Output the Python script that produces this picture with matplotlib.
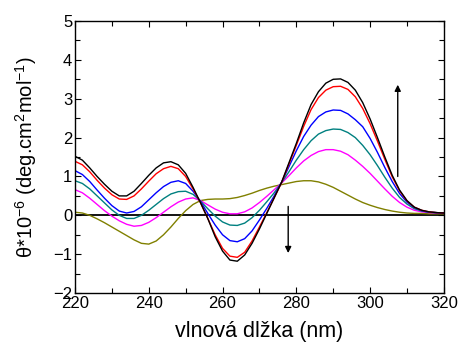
import numpy as np
import matplotlib
matplotlib.use("Agg")
import matplotlib.pyplot as plt
from matplotlib.ticker import MultipleLocator

plt.rcParams["font.family"] = ["Liberation Sans", "DejaVu Sans"]
plt.rcParams["mathtext.fontset"] = "custom"
plt.rcParams["mathtext.rm"] = "Liberation Sans"
plt.rcParams["mathtext.default"] = "regular"

# wavelength grid (nm)
wl = list(range(220, 322, 2))

black = [1.52, 1.42, 1.22, 1.00, 0.80, 0.62, 0.50, 0.50, 0.62, 0.82,
         1.03, 1.22, 1.35, 1.38, 1.30, 1.08, 0.72, 0.33, -0.08, -0.55,
         -0.92, -1.15, -1.18, -1.02, -0.72, -0.35, 0.05, 0.45, 0.85, 1.35,
         1.85, 2.38, 2.85, 3.18, 3.40, 3.50, 3.51, 3.42, 3.22, 2.90,
         2.48, 2.00, 1.50, 1.03, 0.65, 0.38, 0.21, 0.13, 0.09, 0.07, 0.06]
red = [1.39, 1.30, 1.12, 0.90, 0.70, 0.53, 0.42, 0.41, 0.50, 0.68,
       0.88, 1.07, 1.20, 1.26, 1.20, 1.00, 0.68, 0.33, -0.08, -0.50,
       -0.85, -1.05, -1.08, -0.95, -0.66, -0.30, 0.07, 0.45, 0.84, 1.32,
       1.80, 2.29, 2.72, 3.03, 3.22, 3.31, 3.32, 3.24, 3.05, 2.75,
       2.36, 1.91, 1.44, 0.99, 0.63, 0.37, 0.21, 0.13, 0.09, 0.07, 0.06]
blue = [1.15, 1.05, 0.87, 0.65, 0.44, 0.25, 0.11, 0.06, 0.10, 0.22,
        0.40, 0.58, 0.74, 0.85, 0.89, 0.82, 0.62, 0.36, 0.05, -0.25,
        -0.50, -0.65, -0.68, -0.60, -0.40, -0.12, 0.18, 0.50, 0.85, 1.25,
        1.66, 2.03, 2.32, 2.54, 2.66, 2.71, 2.70, 2.61, 2.46, 2.28,
        1.98, 1.62, 1.23, 0.87, 0.56, 0.34, 0.20, 0.12, 0.08, 0.07, 0.06]
teal = [0.89, 0.82, 0.68, 0.50, 0.32, 0.14, 0.00, -0.08, -0.08, 0.00,
        0.13, 0.28, 0.43, 0.55, 0.61, 0.62, 0.54, 0.37, 0.17, -0.02,
        -0.17, -0.25, -0.26, -0.20, -0.06, 0.13, 0.35, 0.58, 0.84, 1.12,
        1.42, 1.69, 1.92, 2.09, 2.18, 2.22, 2.21, 2.13, 2.00, 1.80,
        1.56, 1.28, 0.98, 0.70, 0.46, 0.29, 0.17, 0.11, 0.08, 0.07, 0.06]
magenta = [0.66, 0.58, 0.44, 0.28, 0.12, -0.02, -0.14, -0.23, -0.28, -0.26,
           -0.18, -0.06, 0.08, 0.22, 0.34, 0.42, 0.45, 0.38, 0.27, 0.16,
           0.08, 0.04, 0.04, 0.09, 0.19, 0.33, 0.49, 0.66, 0.83, 1.02,
           1.22, 1.40, 1.54, 1.64, 1.69, 1.69, 1.65, 1.56, 1.42, 1.26,
           1.08, 0.88, 0.68, 0.49, 0.33, 0.21, 0.13, 0.09, 0.07, 0.06, 0.05]
olive = [0.08, 0.06, 0.00, -0.09, -0.19, -0.30, -0.41, -0.52, -0.63, -0.72,
         -0.74, -0.66, -0.50, -0.30, -0.08, 0.12, 0.28, 0.38, 0.41, 0.42,
         0.42, 0.43, 0.46, 0.51, 0.57, 0.64, 0.70, 0.75, 0.79, 0.83,
         0.87, 0.89, 0.89, 0.86, 0.80, 0.72, 0.62, 0.52, 0.42, 0.33,
         0.26, 0.20, 0.15, 0.11, 0.08, 0.06, 0.05, 0.05, 0.04, 0.04, 0.04]

series = [(olive, "#808000"), (magenta, "#ff00ff"), (teal, "#008080"),
          (blue, "#0000ff"), (red, "#ff0000"), (black, "#000000")]

fig = plt.figure(figsize=(4.59, 3.44), dpi=100)
ax = fig.add_axes([0.1634, 0.148, 0.8036, 0.791])

ax.axhline(0, color="black", lw=1.3, zorder=1)
for ys, c in series:
    ax.plot(wl, ys, color=c, lw=1.0, zorder=2)

# arrows showing trend
ax.annotate("", xy=(307.5, 3.36), xytext=(307.5, 1.0),
            arrowprops=dict(arrowstyle="-|>", color="black", lw=1.0,
                            mutation_scale=9, shrinkA=0, shrinkB=0))
ax.annotate("", xy=(277.8, -0.97), xytext=(277.8, 0.23),
            arrowprops=dict(arrowstyle="-|>", color="black", lw=1.0,
                            mutation_scale=9, shrinkA=0, shrinkB=0))

ax.set_xlim(220, 320)
ax.set_ylim(-2, 5)
ax.xaxis.set_major_locator(MultipleLocator(20))
ax.xaxis.set_minor_locator(MultipleLocator(10))
ax.yaxis.set_major_locator(MultipleLocator(1))
ax.yaxis.set_minor_locator(MultipleLocator(0.5))
ax.tick_params(which="both", direction="in", top=True, right=True,
               labelsize=12, width=0.8)
ax.tick_params(which="major", length=4.5, pad=2)
ax.tick_params(which="minor", length=3.5)
for s in ax.spines.values():
    s.set_linewidth(1.0)

ax.set_xlabel("vlnová dlžka (nm)", fontsize=15.5, labelpad=7)
ax.set_ylabel(r"θ*10$^{-6}$ (deg.cm$^{2}$mol$^{-1}$)", fontsize=14.5, labelpad=10)

fig.savefig("out.png", dpi=100)
